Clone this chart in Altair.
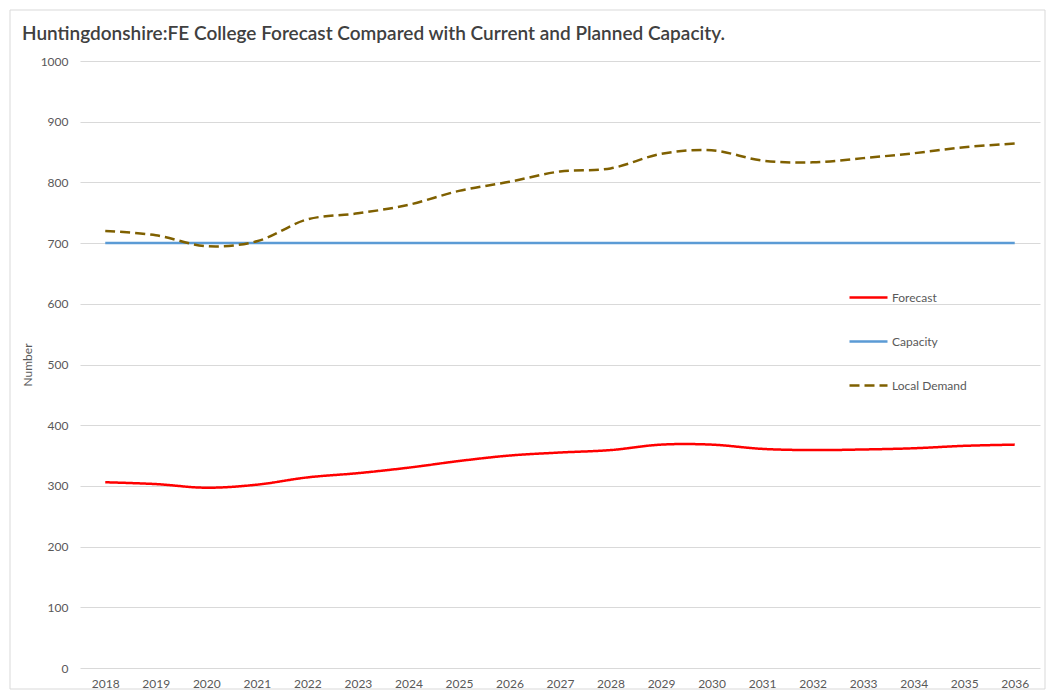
import altair as alt
import pandas as pd

years = [str(y) for y in range(2018, 2037)]
forecast = [306, 303, 297, 302, 314, 321, 330, 341, 350, 355, 359, 368, 368, 361, 359, 360, 362, 366, 368]
capacity = [700] * 19
local_demand = [720, 713, 695, 703, 739, 749, 763, 786, 801, 818, 823, 847, 853, 836, 833, 840, 848, 858, 864]

series_names = ["Forecast", "Capacity", "Local Demand"]
series_values = [forecast, capacity, local_demand]
title_text = "Huntingdonshire:FE College Forecast Compared with Current and Planned Capacity."

rows = []
for name, vals in zip(series_names, series_values):
    for y, v in zip(years, vals):
        rows.append({"Year": y, "Value": v, "Series": name})
df = pd.DataFrame(rows)

FONT = "Lato"
GRAY = "#595959"

legend_cfg = dict(title=None, orient="none", legendX=768, legendY=216,
                  symbolType="stroke", symbolSize=1444, rowPadding=17,
                  labelColor=GRAY, labelFontSize=12, labelFont=FONT,
                  labelOffset=3, symbolStrokeWidth=3)

lines = alt.Chart(df).mark_line(interpolate="catmull-rom").encode(
    x=alt.X("Year:O", sort=years, scale=alt.Scale(type="point", padding=0.5),
            axis=alt.Axis(title=None, labelAngle=0, ticks=False, domain=False,
                          labelPadding=10, labelColor=GRAY, labelFontSize=12, labelFont=FONT)),
    y=alt.Y("Value:Q", scale=alt.Scale(domain=[0, 1000]),
            axis=alt.Axis(title="Number", values=list(range(0, 1001, 100)), format="d",
                          ticks=False, domain=False,
                          labelPadding=12, labelColor=GRAY, labelFontSize=12, labelFont=FONT,
                          titleColor=GRAY, titleFontSize=12, titleFont=FONT, titleFontWeight="normal",
                          titlePadding=6, gridColor="#D9D9D9", gridWidth=1)),
    color=alt.Color("Series:N", sort=series_names,
                    scale=alt.Scale(domain=series_names, range=["#FF0000", "#5B9BD5", "#7F6000"]),
                    legend=alt.Legend(**legend_cfg)),
    strokeDash=alt.StrokeDash("Series:N", sort=series_names,
                              scale=alt.Scale(domain=series_names, range=[[1, 0], [1, 0], [10, 5]]),
                              legend=alt.Legend(**legend_cfg)),
    strokeWidth=alt.StrokeWidth("Series:N", sort=series_names,
                                scale=alt.Scale(domain=series_names, range=[2.5, 2.5, 3.5]),
                                legend=None),
)

border = alt.Chart(pd.DataFrame({"a": [0]})).mark_rect(
    fill=None, stroke="#D9D9D9", strokeWidth=1, clip=False
).encode(
    x=alt.value(-70), x2=alt.value(965), y=alt.value(-51), y2=alt.value(628)
)

title = alt.Chart(pd.DataFrame({"t": [title_text]})).mark_text(
    align="left", baseline="middle", fontSize=19, font=FONT, fontWeight=600,
    color="#404040", clip=False
).encode(x=alt.value(-58), y=alt.value(-27), text="t:N")

chart = alt.layer(border, lines, title).properties(
    width=960, height=607,
    autosize=alt.AutoSizeParams(type="none"),
    padding={"left": 72, "top": 53, "right": 7, "bottom": 22},
).configure(background="white").configure_view(stroke=None)

chart.save("out.html", embed_options={"renderer": "svg", "actions": False})
